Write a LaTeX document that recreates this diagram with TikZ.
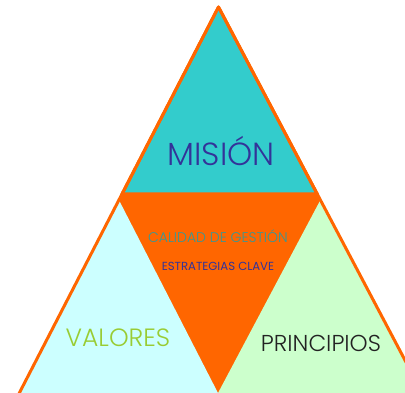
\documentclass[tikz,border=0pt]{standalone}
\usepackage{fontspec}
\usetikzlibrary{calc}
\setmainfont{Poppins Light}
\newfontfamily\regfont{Poppins}
\definecolor{orng}{HTML}{FF6600}
\definecolor{teal1}{HTML}{33CCCC}
\definecolor{cyanl}{HTML}{CCFFFF}
\definecolor{greenl}{HTML}{CCFFCC}
\definecolor{navy1}{HTML}{333399}
\definecolor{tealtxt}{HTML}{339999}
\definecolor{lime1}{HTML}{99CC33}
\definecolor{dark1}{HTML}{222222}
\begin{document}
\begin{tikzpicture}[x=1pt,y=-1pt,
  edge/.style={draw=orng,line width=3pt,line join=round},
  lbl/.style={inner sep=0pt,anchor=center}]
\useasboundingbox (0,0) rectangle (405,393);
\clip (0,0) rectangle (405,393);
\pgfmathsetmacro{\sL}{0.516}
\pgfmathsetmacro{\sR}{0.528}
% key points
\coordinate (apex) at (218.5,7);
\coordinate (bl) at ({218.5-\sL*413},420);
\coordinate (br) at ({218.5+\sR*413},420);
\coordinate (tl) at ({218.5-\sL*187},194);
\coordinate (tr) at ({218.5+\sR*187},194);
\coordinate (cl) at ({218.5-\sL*193},200);
\coordinate (cr) at ({218.5+\sR*193},200);
\coordinate (vb) at (218,393);
\coordinate (vr) at ($(cl)!1.2!(vb)$);
\coordinate (vl) at ($(cr)!1.2!(vb)$);
% orange background
\fill[orng] (apex) -- (br) -- (bl) -- cycle;
% bottom triangles
\fill[cyanl] (cl) -- (vr) -- (bl) -- cycle;
\fill[greenl] (cr) -- (vl) -- (br) -- cycle;
% top triangle
\filldraw[fill=teal1,edge] (apex) -- (tr) -- (tl) -- cycle;
% outer edges
\draw[edge] (bl) -- (apex) -- (br);
% texts
\node[lbl,text=navy1,font=\fontsize{32}{36}\selectfont] (mis) at (221,151) {MISIÓN};
\node[lbl,text=tealtxt,font=\fontsize{14}{16}\selectfont] (cal) at (218,236) {CALIDAD DE GESTIÓN};
\node[lbl,text=navy1,font=\regfont\fontsize{11.7}{13}\selectfont] (est) at (218,266) {ESTRATEGIAS CLAVE};
\node[lbl,text=lime1,font=\fontsize{25}{28}\selectfont] (val) at (118,338) {VALORES};
\node[lbl,text=dark1,font=\fontsize{23}{26}\selectfont] (pri) at (321,343) {PRINCIPIOS};
\end{tikzpicture}
\end{document}
